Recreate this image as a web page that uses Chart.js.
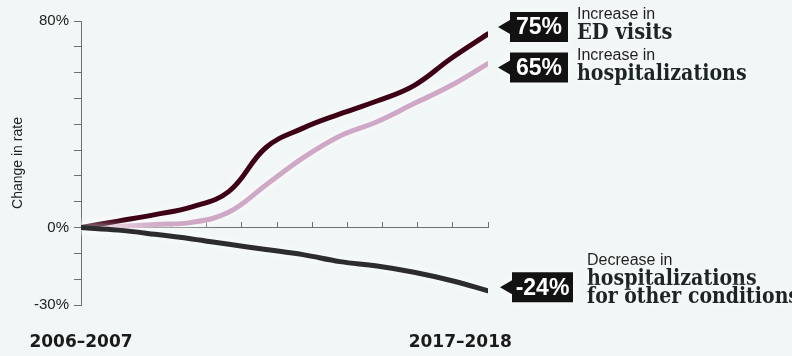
<!DOCTYPE html>
<html>
<head>
<meta charset="utf-8">
<script src="https://cdn.jsdelivr.net/npm/chart.js@4.4.1/dist/chart.umd.min.js"></script>
<style>
  html, body { margin: 0; padding: 0; background: #f1f6f6; }
  #wrap { width: 792px; height: 356px; }
</style>
</head>
<body>
<div id="wrap"><canvas id="rateChart"></canvas></div>
<script>
// values (percent change since 2006-2007)
const periods = ["2006–2007", "2007–2008", "2008–2009", "2009–2010", "2010–2011", "2011–2012",
                 "2012–2013", "2013–2014", "2014–2015", "2015–2016", "2016–2017", "2017–2018"];
const edVisits = [0, 2.5, 5, 8, 14, 31, 38.5, 44, 49, 55, 65.5, 75];
const hospitalizations = [0, 0.5, 1.2, 2, 6, 16.5, 27, 35.5, 41, 48, 55, 63.5];
const otherConditions = [0, -1, -2.6, -4.4, -6.5, -8.5, -10.5, -13.2, -14.9, -17.3, -20.5, -24.5];

const yLabelled = [80, 0, -30];
const bottomLabels = ["2006–2007", "2017–2018"];
const bottomLabelAt = [0, 10.25];
const xTickStep = 0.95;

const callouts = [
    { ds: 1, value: "75%", small: "Increase in", big: ["ED visits"] },
    { ds: 2, value: "65%", small: "Increase in", big: ["hospitalizations"] },
    { ds: 0, value: "-24%", small: "Decrease in", big: ["hospitalizations", "for other conditions"] },
];

const toPoints = arr => arr.map((v, i) => ({ x: i, y: v }));

// soft white glow behind the lines
const glowPlugin = {
    id: "glow",
    beforeDatasetsDraw(chart) {
        const ctx = chart.ctx;
        ctx.save();
        ctx.shadowColor = "rgba(255,255,255,0.95)";
        ctx.shadowBlur = 9;
    },
    afterDatasetsDraw(chart) {
        chart.ctx.restore();
    },
};

const calloutPlugin = {
    id: "callouts",
    afterDraw(chart) {
        const ctx = chart.ctx;
        const layout = [
            { dx: 22, dy: -7, textX: 9, boxW: 58 },
            { dx: 22, dy: 4, textX: 9, boxW: 58 },
            { dx: 24, dy: -3.5, textX: 14, boxW: 61 },
        ];
        callouts.forEach((c, n) => {
            const meta = chart.getDatasetMeta(c.ds);
            const end = meta.data[meta.data.length - 1];
            const L = layout[n];
            const bx = end.x + L.dx, cy = end.y + L.dy, bh = 30;
            ctx.save();
            ctx.shadowColor = "rgba(255,255,255,0.9)";
            ctx.shadowBlur = 10;
            ctx.fillStyle = "#121212";
            ctx.beginPath();
            ctx.moveTo(bx - 12, cy);
            ctx.lineTo(bx, cy - 7);
            ctx.lineTo(bx, cy - bh / 2);
            ctx.lineTo(bx + L.boxW, cy - bh / 2);
            ctx.lineTo(bx + L.boxW, cy + bh / 2);
            ctx.lineTo(bx, cy + bh / 2);
            ctx.lineTo(bx, cy + 7);
            ctx.closePath();
            ctx.fill();
            ctx.shadowBlur = 0;
            ctx.fillStyle = "#ffffff";
            ctx.font = "bold 23px 'Liberation Sans', Arial, sans-serif";
            ctx.textAlign = "center";
            ctx.textBaseline = "middle";
            ctx.fillText(c.value, bx + L.boxW / 2, cy + 1, L.boxW - 4);

            const tx = bx + L.boxW + L.textX;
            ctx.textAlign = "left";
            ctx.textBaseline = "alphabetic";
            ctx.shadowColor = "rgba(255,255,255,1)";
            ctx.shadowBlur = 8;
            ctx.fillStyle = "#1e1e1e";
            ctx.font = "16px 'Liberation Sans', Arial, sans-serif";
            const top = c.big.length === 1 ? cy - 8 : cy - 22;
            ctx.fillText(c.small, tx, top);
            ctx.fillStyle = "#1c2424";
            ctx.font = "bold 22px 'DejaVu Serif', serif";
            c.big.forEach((line, k) => {
                const w = ctx.measureText(line).width;
                const target = line.length * 10.6;
                ctx.fillText(line, tx, top + 20 + k * 18, Math.min(w, target));
            });
            ctx.restore();
        });
    },
};

new Chart(document.getElementById("rateChart"), {
    type: "line",
    data: {
        datasets: [
            {
                label: "Hospitalizations for other conditions",
                data: toPoints(otherConditions),
                borderColor: "#2c2c2e",
                borderWidth: 5,
            },
            {
                label: "ED visits",
                data: toPoints(edVisits),
                borderColor: "#3d0015",
                borderWidth: 5,
            },
            {
                label: "Hospitalizations",
                data: toPoints(hospitalizations),
                borderColor: "#cfa8c5",
                borderWidth: 5,
            },
        ],
    },
    options: {
        responsive: true,
        maintainAspectRatio: false,
        animation: false,
        layout: { padding: { top: 21, right: 304, left: 0, bottom: 0 } },
        elements: {
            point: { radius: 0 },
            line: { tension: 0.4, borderCapStyle: "round", borderJoinStyle: "round" },
        },
        plugins: {
            legend: { display: false },
            tooltip: { enabled: false },
        },
        scales: {
            x: {
                type: "linear",
                min: 0,
                max: periods.length - 1,
                position: { y: 0 },
                afterBuildTicks(scale) {
                    const t = [];
                    for (let k = 0; k < 10; k++) t.push({ value: scale.max - k * xTickStep });
                    scale.ticks = t;
                },
                afterFit(scale) { scale.height = 0; },
                grid: { drawOnChartArea: false, drawTicks: true, tickLength: -6, color: "#6b7070" },
                border: { color: "#6b7070", width: 1 },
                ticks: { display: false },
            },
            xb: {
                type: "linear",
                axis: "x",
                min: 0,
                max: periods.length - 1,
                position: "bottom",
                afterBuildTicks(scale) {
                    scale.ticks = bottomLabelAt.map(v => ({ value: v }));
                },
                afterFit(scale) { scale.height = 51; },
                grid: { display: false, drawTicks: false },
                border: { display: false },
                ticks: {
                    autoSkip: false,
                    maxRotation: 0,
                    padding: 27,
                    color: "#1a1a1a",
                    font: { family: "'DejaVu Sans', sans-serif", size: 17, weight: "bold" },
                    callback: (v, i) => bottomLabels[i],
                },
            },
            y: {
                min: -30,
                max: 80,
                afterFit(scale) { scale.width = 81; },
                ticks: {
                    stepSize: 10,
                    padding: 5,
                    color: "#222",
                    font: { family: "'Liberation Sans', Arial, sans-serif", size: 15 },
                    callback: v => (yLabelled.includes(v) ? v + "%" : ""),
                },
                grid: { drawOnChartArea: false, drawTicks: true, tickLength: 7, color: "#6b7070" },
                border: { color: "#6b7070", width: 1 },
                title: {
                    display: true,
                    text: "Change in rate",
                    color: "#222",
                    padding: { top: 10, bottom: 0 },
                    font: { family: "'Liberation Sans', Arial, sans-serif", size: 14 },
                },
            },
        },
    },
    plugins: [glowPlugin, calloutPlugin],
});
</script>
</body>
</html>
